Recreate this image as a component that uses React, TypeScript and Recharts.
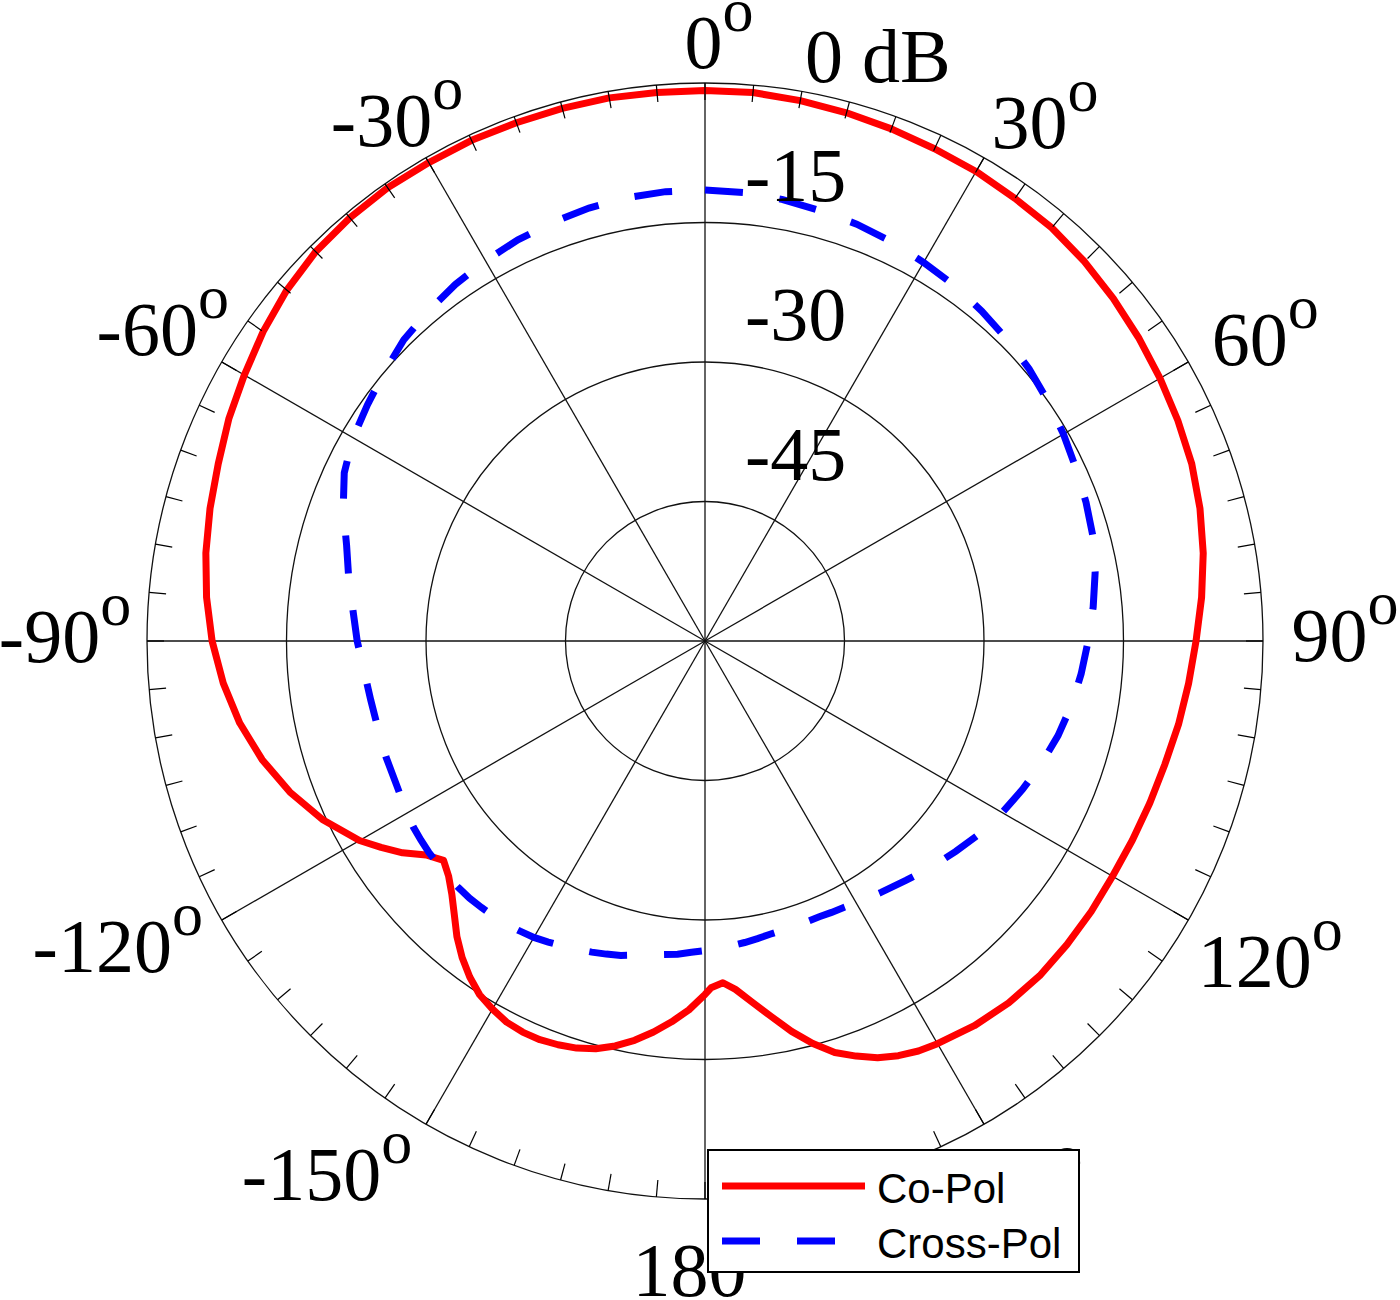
import React from "react";
import {
  RadarChart,
  Radar,
  PolarGrid,
  PolarAngleAxis,
  PolarRadiusAxis,
  Legend,
} from "recharts";

// angle in degrees, clockwise from 0 at the top (values > 180 are shown as negative)
const angles = [
  0, 5, 10, 15, 20, 25, 30, 35, 40, 45, 50, 55, 60, 65, 70, 75, 80, 85, 90, 95,
  100, 105, 110, 115, 120, 125, 130, 135, 140, 145,
  150, 152.5, 155, 157.5, 160, 162.5, 165, 167.5, 170, 172.5, 175, 177, 179,
  180, 182.5, 185, 187.5, 190, 192.5, 195, 197.5, 200, 202.5, 205, 207.5, 210,
  212.5, 215, 217.5, 220, 222.5, 225, 227.5, 230, 232.5, 235, 237.5, 240,
  245, 250, 255, 260, 265, 270, 275, 280, 285, 290, 295, 300, 305, 310, 315,
  320, 325, 330, 335, 340, 345, 350, 355,
];

// Co-Pol, dB
const coPol = [
  -0.8, -0.8, -1.0, -1.2, -1.4, -1.6, -1.7, -1.9, -2.0, -2.3, -2.7, -3.1, -3.5,
  -3.9, -4.3, -4.9, -5.6, -6.4, -7.2, -7.8, -8.3, -8.8, -9.1, -9.3, -9.4, -9.3,
  -9.2, -9.1, -9.2, -9.5,
  -10.0, -10.3, -10.8, -11.5, -12.5, -13.6, -15.2, -17.0, -19.0, -20.8, -22.4,
  -23.2, -22.7,
  -22.0, -20.3, -18.9, -17.6, -16.4, -15.4, -14.6, -14.1, -13.8, -13.6, -13.6,
  -13.8, -14.3, -14.9, -15.9, -17.1, -18.5, -20.1, -21.5, -22.6, -23.3, -22.2,
  -20.3, -18.7, -17.1,
  -14.6, -12.5, -10.7, -9.2, -8.0, -7.0, -6.2, -5.5, -4.9, -4.3, -3.5, -2.8,
  -2.0, -1.3, -0.8, -0.6, -0.5, -0.6, -0.6, -0.7, -0.7, -0.7, -0.8,
];

// Cross-Pol, dB
const crossPol = [
  -11.5, -11.6, -11.8, -12.1, -12.3, -12.6, -13.0, -13.3, -13.7, -14.1, -14.5,
  -15.0, -15.5, -16.0, -16.4, -16.8, -17.4, -18.1, -18.8, -19.4, -20.0, -20.7,
  -21.5, -22.3, -23.1, -23.9, -24.8, -25.6, -26.4, -27.0,
  -27.5, -27.7, -27.8, -27.9, -27.9, -27.9, -27.8, -27.7, -27.5, -27.3, -27.1,
  -26.9, -26.8,
  -26.7, -26.5, -26.2, -26.0, -25.7, -25.4, -25.0, -24.7, -24.4, -24.1, -23.8,
  -23.5, -23.2, -23.0, -22.8, -22.7, -22.6, -22.5, -22.5, -22.5, -22.6, -22.6,
  -22.7, -22.8, -23.0,
  -23.4, -23.5, -23.6, -23.5, -23.2, -22.6, -22.0, -21.1, -20.1, -18.6, -17.2,
  -16.3, -15.7, -15.0, -14.2, -13.7, -13.2, -12.8, -12.4, -12.1, -11.8, -11.6,
  -11.5,
];

const angleTicks = Array.from({ length: 72 }, (_, i) => i * 5);
const spokeAngles = [0, 30, 60, 90, 120, 150, 180, 210, 240, 270, 300, 330];

const data = angles.map((angle, i) => ({
  angle,
  coPol: coPol[i],
  crossPol: crossPol[i],
}));

const CX = 705;
const CY = 641;
const OUTER_R = 558;
const TICK_LEN = 17;
const RAD = Math.PI / 180;
const SERIF = "'Liberation Serif', 'Times New Roman', serif";

// small hand placement of the angle labels, [dx, dy]
const LABEL_NUDGE: Record<number, [number, number]> = {
  0: [14, 0],
  30: [20, 0],
  60: [6, -3],
  90: [0, -6],
  120: [11, 6],
  150: [-15, 2],
  180: [0, 0],
  [-150]: [-58, -12],
  [-120]: [-33, -9],
  [-90]: [0, -5],
  [-60]: [12, -13],
  [-30]: [12, -2],
};

const toXY = (cx: number, cy: number, r: number, coord: number) => ({
  x: cx + r * Math.cos(-coord * RAD),
  y: cy + r * Math.sin(-coord * RAD),
});

function AngleTick(props: any) {
  const { payload } = props;
  const cx = props.cx ?? CX;
  const cy = props.cy ?? CY;
  const radius = props.radius ?? OUTER_R;
  const value = Number(payload.value);
  if (value >= 360) return <g />;
  const coord = payload.coordinate;
  const p1 = toXY(cx, cy, radius, coord);
  const p2 = toXY(cx, cy, radius - TICK_LEN, coord);

  let label = null;
  if (value % 30 === 0) {
    const shown = value > 180 ? value - 360 : value;
    const t = (90 - coord) * RAD;
    const s = Math.sin(t);
    const c = Math.cos(t);
    const [dx, dy] = LABEL_NUDGE[shown] ?? [0, 0];
    const x = cx + (radius + 82) * s + dx;
    const y = cy - radius * 1.1 * c + 15 * Math.abs(c) + 26 + dy;
    label = (
      <text
        x={x}
        y={y}
        textAnchor="middle"
        fontFamily={SERIF}
        fontSize={76}
        fill="#000"
      >
        {shown}
        <tspan dy={-37} fontSize={62}>
          o
        </tspan>
      </text>
    );
  }
  return (
    <g>
      <line x1={p1.x} y1={p1.y} x2={p2.x} y2={p2.y} stroke="#000" strokeWidth={1.2} />
      {label}
    </g>
  );
}

function RadiusTick(props: any) {
  const { x, y, payload } = props;
  const v = Number(payload.value);
  if (v === -60) return <g />;
  if (v === 0) {
    return (
      <text x={x + 100} y={y - 1} fontFamily={SERIF} fontSize={76} fill="#000">
        0 dB
      </text>
    );
  }
  return (
    <text x={x + 40} y={y - 22} fontFamily={SERIF} fontSize={76} fill="#000">
      {v}
    </text>
  );
}

function PolLegend(props: any) {
  const items = props.payload || [];
  return (
    <div
      style={{
        width: 373,
        height: 124,
        background: "#fff",
        border: "2px solid #000",
        boxSizing: "border-box",
      }}
    >
      <svg width={369} height={120} style={{ display: "block" }}>
        {items.map((entry: any, i: number) => {
          const color = entry.color ?? entry.payload?.stroke;
          const dash = entry.payload?.strokeDasharray;
          return (
            <g key={entry.value}>
              <line
                x1={13}
                x2={156}
                y1={35 + i * 55}
                y2={35 + i * 55}
                stroke={color}
                strokeWidth={7}
                strokeDasharray={dash}
              />
              <text
                x={168}
                y={52 + i * 55}
                fontFamily="'Liberation Sans', Arial, sans-serif"
                fontSize={42}
                fill="#000"
              >
                {entry.value}
              </text>
            </g>
          );
        })}
      </svg>
    </div>
  );
}

export default function App() {
  return (
    <div style={{ position: "absolute", left: 0, top: 0, background: "#fff" }}>
      <RadarChart
        width={1400}
        height={1300}
        data={data}
        cx={CX}
        cy={CY}
        outerRadius={OUTER_R}
        startAngle={90}
        endAngle={-270}
        margin={{ top: 0, right: 0, bottom: 0, left: 0 }}
      >
        <PolarGrid
          gridType="circle"
          stroke="#111"
          strokeWidth={1.3}
          polarAngles={spokeAngles.map((a) => 90 - a)}
        />
        <PolarAngleAxis
          dataKey="angle"
          type="number"
          domain={[0, 360]}
          ticks={angleTicks}
          tickCount={73}
          axisLine={false}
          tickLine={false}
          tick={<AngleTick />}
        />
        <PolarRadiusAxis
          angle={90}
          type="number"
          domain={[-60, 0]}
          tickCount={5}
          axisLine={false}
          tick={<RadiusTick />}
        />
        <Radar
          name="Co-Pol"
          dataKey="coPol"
          stroke="#ff0000"
          strokeWidth={7}
          strokeLinejoin="round"
          fill="none"
          fillOpacity={0}
          dot={false}
          isAnimationActive={false}
        />
        <Radar
          name="Cross-Pol"
          dataKey="crossPol"
          stroke="#0000ff"
          strokeWidth={7}
          strokeDasharray="38 37"
          fill="none"
          fillOpacity={0}
          dot={false}
          isAnimationActive={false}
        />
        <Legend
          content={<PolLegend />}
          wrapperStyle={{ left: 707, top: 1149, width: 373, height: 124, bottom: "auto", right: "auto" }}
        />
      </RadarChart>
    </div>
  );
}
